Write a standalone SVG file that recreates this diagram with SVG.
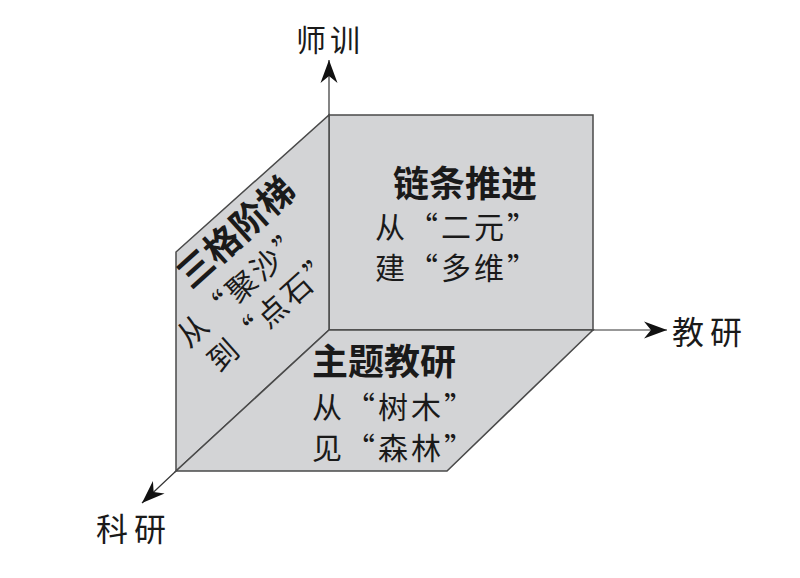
<svg xmlns="http://www.w3.org/2000/svg" width="800" height="578" viewBox="0 0 800 578">
<style>
.face{fill:#d3d4d6;stroke:#4a4a4a;stroke-width:1.5;stroke-linejoin:miter}
.axis{stroke:#333;stroke-width:1.2;fill:none}
.t{font-family:"Noto Sans CJK SC","Noto Sans CJK TC",sans-serif;fill:#1a1a1a}
.b{font-weight:bold;font-size:36px}
.n{font-size:30px;letter-spacing:3px}
.lab{font-size:32px;letter-spacing:6px}
</style>
<defs>
<marker id="arr" markerUnits="userSpaceOnUse" markerWidth="30" markerHeight="20" viewBox="-24 -10 26 20" refX="0" refY="0" orient="auto">
<path d="M0,0 L-23,-8.5 L-16,0 L-23,8.5 Z" fill="#111"/>
</marker>
</defs>
<g id="connectors">
<line class="axis" x1="329" y1="115" x2="329" y2="60" marker-end="url(#arr)"/>
<line class="axis" x1="593" y1="330" x2="667" y2="330" marker-end="url(#arr)"/>
<line class="axis" x1="176" y1="471" x2="142" y2="503" marker-end="url(#arr)"/>
</g>
<g id="face-back">
<rect class="face" x="329" y="115" width="264" height="215"/>
<text class="t b" x="393" y="197">链条推进</text>
<text class="t n" x="375" y="238">从“二元”</text>
<text class="t n" x="375" y="279">建“多维”</text>
</g>
<g id="face-left">
<polygon class="face" points="176,252 329,115 329,330 176,471"/>
<g transform="translate(191,290) rotate(-42)">
<text class="t b" x="0" y="0">三格阶梯</text>
<text class="t n" x="-41" y="42">从“聚沙”</text>
<text class="t n" x="-35" y="81">到“点石”</text>
</g>
</g>
<g id="face-bottom">
<polygon class="face" points="329,330 593,330 447,471 176,471"/>
<text class="t b" x="312" y="375">主题教研</text>
<text class="t n" x="312" y="418">从“树木”</text>
<text class="t n" x="312" y="459">见“森林”</text>
</g>
<g id="labels">
<text class="t lab" x="296" y="51" style="font-size:30px;letter-spacing:4px">师训</text>
<text class="t lab" x="672" y="344">教研</text>
<text class="t lab" x="96" y="541">科研</text>
</g>
</svg>
